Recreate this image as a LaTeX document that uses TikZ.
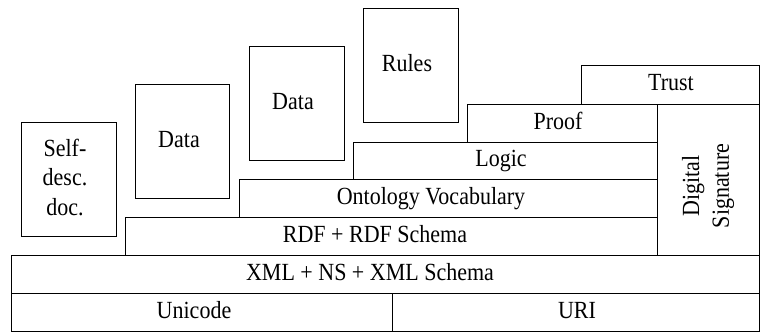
\documentclass[tikz,border=0pt]{standalone}
\usepackage{fontspec}
\setmainfont{Liberation Serif}
\newcommand\tx[1]{\scalebox{1}[1.12]{\begin{tabular}{@{}c@{}}#1\end{tabular}}}
\begin{document}
\begin{tikzpicture}[x=1pt,y=-1pt,
  layer/.style={draw, line width=0.8pt, rectangle, inner sep=0pt, anchor=north west},
  lbl/.style={inner sep=0pt, font=\fontsize{22}{26.5}\selectfont}]
\useasboundingbox (0,0) rectangle (760,332);
\node[layer, minimum width=381pt, minimum height=38pt] (unicode) at (11,293) {};
\node[layer, minimum width=367pt, minimum height=38pt] (uri) at (392,293) {};
\node[layer, minimum width=748pt, minimum height=38pt] (xml) at (11,255) {};
\node[layer, minimum width=532pt, minimum height=38pt] (rdf) at (125,217) {};
\node[layer, minimum width=418pt, minimum height=38pt] (onto) at (239,179) {};
\node[layer, minimum width=304pt, minimum height=37pt] (logic) at (353,142) {};
\node[layer, minimum width=190pt, minimum height=38pt] (proof) at (467,104) {};
\node[layer, minimum width=178pt, minimum height=39pt] (trust) at (581,65) {};
\node[layer, minimum width=102pt, minimum height=151pt] (dsig) at (657,104) {};
\node[layer, minimum width=95pt, minimum height=114pt] (self) at (21,122) {};
\node[layer, minimum width=94pt, minimum height=114pt] (data1) at (135,84) {};
\node[layer, minimum width=95pt, minimum height=114pt] (data2) at (249,46) {};
\node[layer, minimum width=95pt, minimum height=114pt] (rules) at (363,8) {};
% labels
\node[lbl] (unicode-t) at (unicode.center -| 194,0) {\tx{Unicode}};
\node[lbl] (uri-t) at (uri.center -| 577,0) {\tx{URI}};
\node[lbl] (xml-t) at (xml.center -| 370,0) {\tx{XML + NS + XML Schema}};
\node[lbl] (rdf-t) at (rdf.center -| 375,0) {\tx{RDF + RDF Schema}};
\node[lbl] (onto-t) at (onto.center -| 431,0) {\tx{Ontology Vocabulary}};
\node[lbl] (logic-t) at (logic.center -| 501,0) {\tx{Logic}};
\node[lbl] (proof-t) at (proof.center -| 558,0) {\tx{Proof}};
\node[lbl] (trust-t) at (trust.center -| 671,0) {\tx{Trust}};
\node[lbl, rotate=90] (dsig-t) at (708,186) {\tx{Digital\\Signature}};
\node[lbl] (self-t) at (65,180) {\tx{Self-\\desc.\\doc.}};
\node[lbl] (data1-t) at (data1.center -| 179,0) {\tx{Data}};
\node[lbl] (data2-t) at (data2.center -| 293,0) {\tx{Data}};
\node[lbl] (rules-t) at (rules.center -| 407,0) {\tx{Rules}};
\end{tikzpicture}
\end{document}
